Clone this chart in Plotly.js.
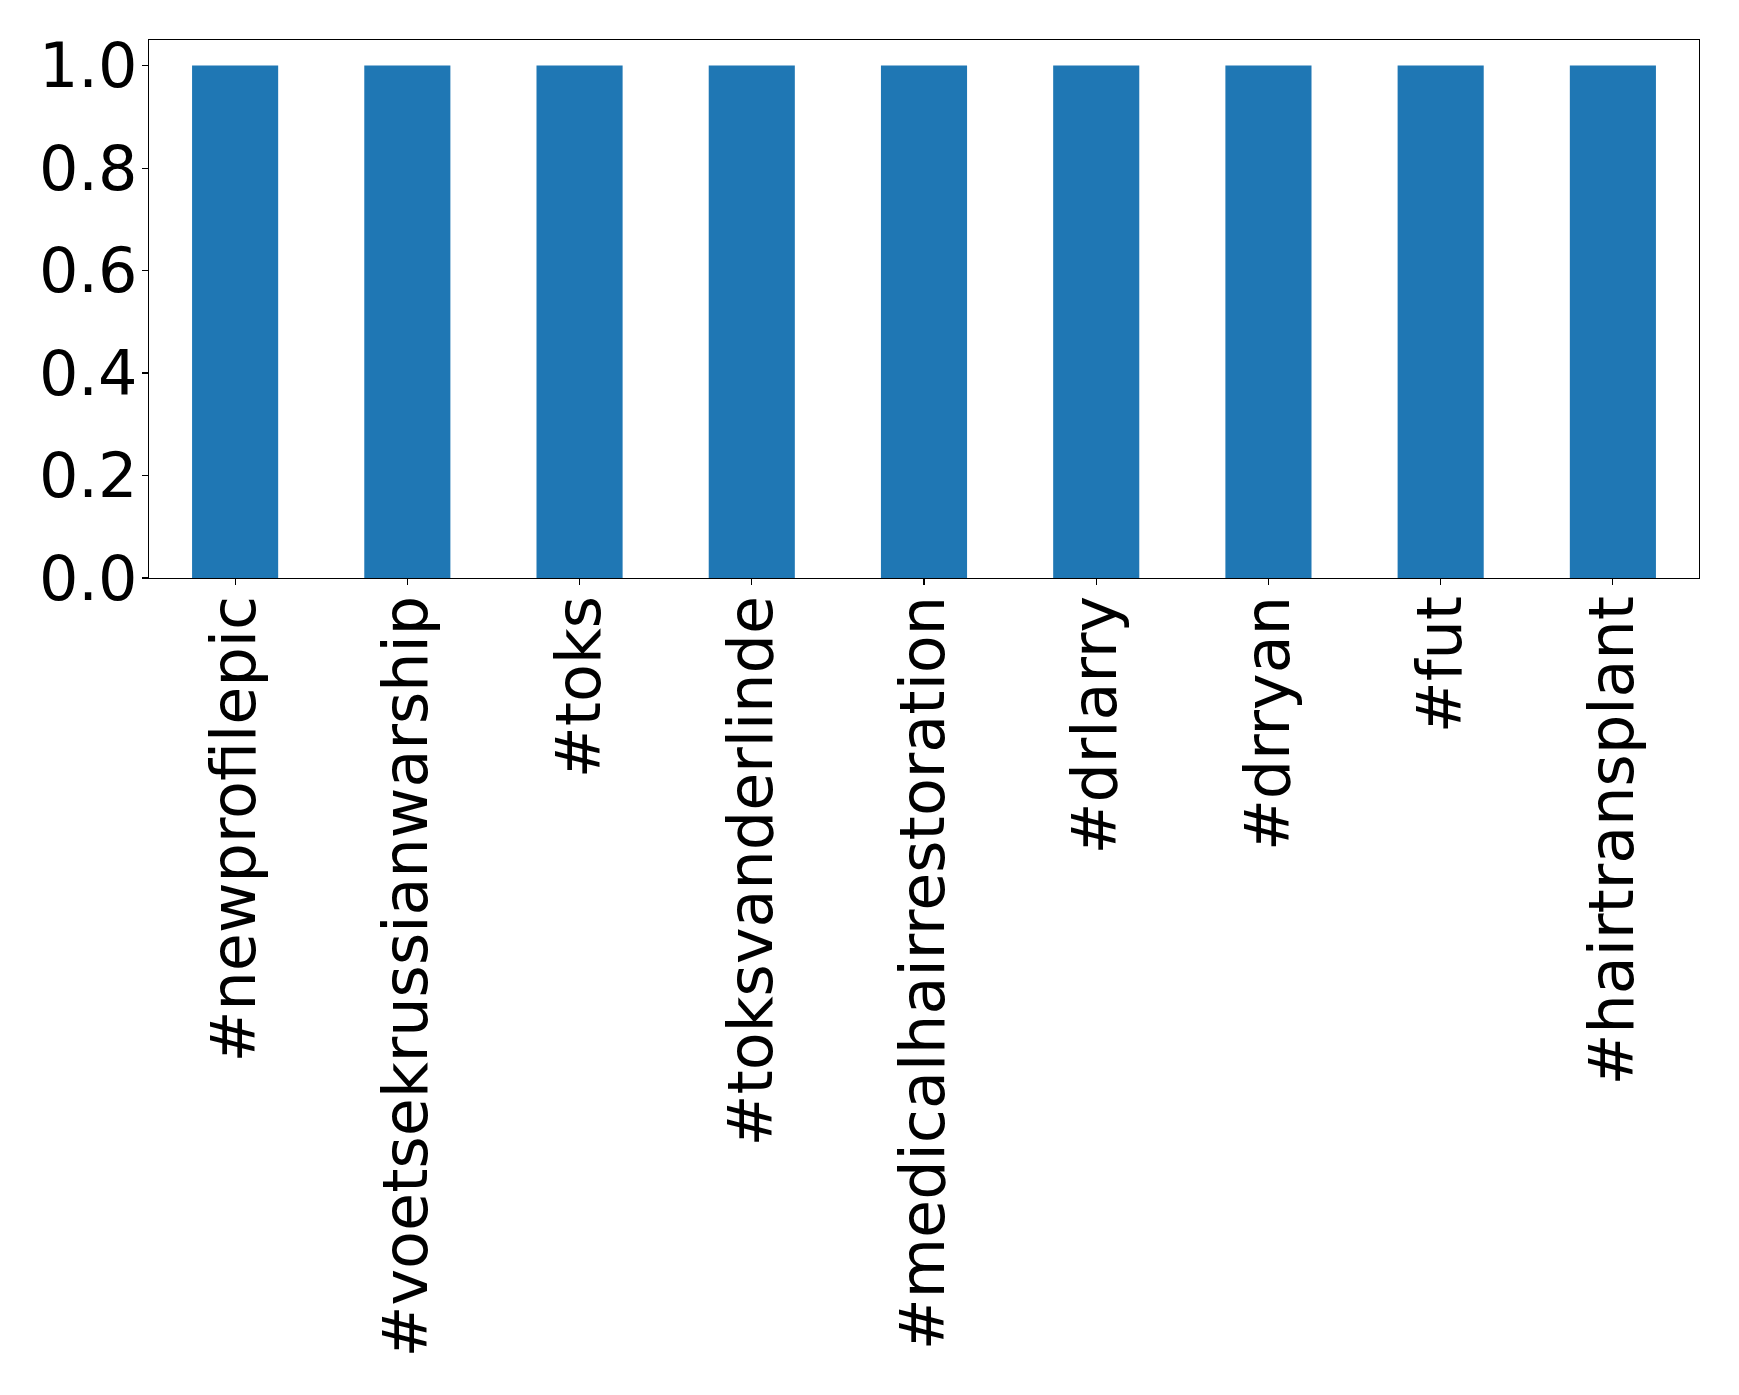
<!DOCTYPE html>
<html>
<head>
<meta charset="utf-8">
<script src="https://cdn.plot.ly/plotly-3.0.1.min.js"></script>
<style>html,body{margin:0;padding:0;background:#fff;}#chart{width:1739px;height:1395px;}</style>
</head>
<body>
<div id="chart"></div>
<script>
const categories = ["#newprofilepic", "#voetsekrussianwarship", "#toks", "#toksvanderlinde", "#medicalhairrestoration", "#drlarry", "#drryan", "#fut", "#hairtransplant"];
const counts = [1, 1, 1, 1, 1, 1, 1, 1, 1];
const yTicks = [0, 0.2, 0.4, 0.6, 0.8, 1.0];

const trace = {
  type: 'bar',
  x: categories.map((c, i) => i),
  y: counts,
  width: 0.5,
  marker: {color: '#1f77b4', line: {width: 0}},
  hoverinfo: 'none'
};

const layout = {
  width: 1739,
  height: 1395,
  margin: {l: 149, r: 40, t: 40, b: 817, pad: 0},
  paper_bgcolor: '#fff',
  plot_bgcolor: '#fff',
  showlegend: false,
  font: {family: 'DejaVu Sans', size: 62, color: '#000'},
  xaxis: {
    range: [-0.5, 8.5],
    tickvals: categories.map((c, i) => i),
    ticktext: categories,
    tickangle: -90,
    ticks: 'outside',
    ticklen: 6,
    tickwidth: 1.1,
    tickcolor: '#000',
    showgrid: false,
    zeroline: false,
    showline: true,
    mirror: true,
    linecolor: '#000',
    linewidth: 1.1,
    ticklabelstandoff: -14,
    tickfont: {family: 'DejaVu Sans', size: 62, color: '#000'}
  },
  yaxis: {
    range: [0, 1.05],
    tickvals: yTicks,
    tickformat: '.1f',
    ticks: 'outside',
    ticklen: 6,
    tickwidth: 1.1,
    tickcolor: '#000',
    showgrid: false,
    zeroline: false,
    showline: true,
    mirror: true,
    linecolor: '#000',
    linewidth: 1.1,
    ticklabelstandoff: -8,
    tickfont: {family: 'DejaVu Sans', size: 62, color: '#000'}
  }
};

Plotly.newPlot('chart', [trace], layout, {staticPlot: true, displayModeBar: false});
</script>
</body>
</html>
